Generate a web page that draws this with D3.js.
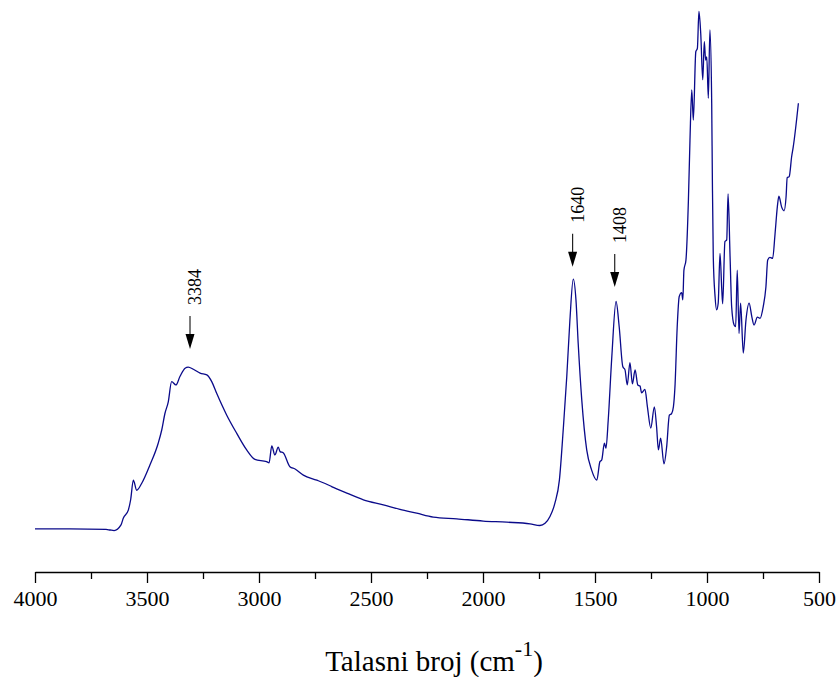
<!DOCTYPE html>
<html>
<head>
<meta charset="utf-8">
<script src="https://cdn.jsdelivr.net/npm/d3@7"></script>
<style>
  html, body { margin: 0; padding: 0; background: #fff; }
  svg { display: block; }
  .axis path, .axis line { stroke: #000; stroke-width: 1.3; }
</style>
</head>
<body>
<div id="chart"></div>
<script>
// FTIR spectrum, wavenumber (cm-1) vs absorbance (a.u.)
const wavenumber = [
  4000, 3844, 3683, 3665, 3647, 3616, 3606, 3583, 3573, 3561, 3546, 3524, 3487, 3450, 3434, 3420,
  3405, 3390, 3371, 3353, 3330, 3316, 3293, 3263, 3233, 3211, 3189, 3144, 3100, 3055, 3018, 2966,
  2955, 2943, 2929, 2914, 2906, 2892, 2862, 2839, 2802, 2742, 2683, 2668, 2608, 2534, 2445, 2371,
  2296, 2222, 2117, 1999, 1894, 1790, 1746, 1723, 1701, 1679, 1659, 1641, 1626, 1612, 1597, 1585,
  1575, 1559, 1537, 1515, 1492, 1478, 1470, 1458, 1451, 1441, 1425, 1406, 1392, 1376, 1366, 1356,
  1344, 1333, 1321, 1309, 1299, 1292, 1277, 1266, 1251, 1235, 1225, 1217, 1207, 1192, 1180, 1168,
  1158, 1150, 1143, 1133, 1124, 1113, 1108, 1103, 1094, 1083, 1076, 1068, 1061, 1050, 1043, 1036,
  1028, 1019, 1012, 1006, 1001, 994, 987, 979, 976, 972, 964, 957, 950, 942, 934, 930,
  920, 912, 906, 897, 890, 879, 872, 865, 857, 850, 838, 826, 812, 800, 790, 775,
  763, 749, 737, 729, 719, 707, 696, 686, 679, 667, 656, 647, 642, 633, 622, 615, 592
];
const absorbance = [
  0.077, 0.077, 0.076, 0.075, 0.074, 0.084, 0.096, 0.111, 0.129, 0.164, 0.146, 0.158, 0.191, 0.230, 0.254, 0.283,
  0.304, 0.340, 0.334, 0.349, 0.364, 0.366, 0.362, 0.355, 0.352, 0.340, 0.319, 0.280, 0.248, 0.218, 0.201, 0.197,
  0.195, 0.225, 0.209, 0.223, 0.215, 0.213, 0.188, 0.184, 0.173, 0.164, 0.154, 0.151, 0.141, 0.129, 0.120, 0.112,
  0.105, 0.098, 0.095, 0.091, 0.089, 0.086, 0.083, 0.087, 0.099, 0.123, 0.164, 0.259, 0.349, 0.450, 0.523, 0.486,
  0.408, 0.307, 0.218, 0.182, 0.164, 0.197, 0.200, 0.230, 0.221, 0.271, 0.384, 0.483, 0.438, 0.367, 0.361, 0.334,
  0.374, 0.336, 0.361, 0.334, 0.332, 0.320, 0.326, 0.295, 0.257, 0.295, 0.259, 0.218, 0.239, 0.193, 0.224, 0.280,
  0.283, 0.295, 0.331, 0.438, 0.492, 0.499, 0.486, 0.539, 0.557, 0.664, 0.771, 0.861, 0.807, 0.929, 0.935, 1.001,
  0.962, 0.879, 0.947, 0.914, 0.920, 0.846, 0.968, 0.837, 0.700, 0.563, 0.492, 0.468, 0.480, 0.569, 0.504, 0.479,
  0.590, 0.593, 0.675, 0.563, 0.474, 0.441, 0.438, 0.539, 0.426, 0.480, 0.391, 0.450, 0.480, 0.456, 0.441, 0.455,
  0.453, 0.474, 0.509, 0.557, 0.562, 0.560, 0.605, 0.652, 0.671, 0.652, 0.645, 0.670, 0.704, 0.706, 0.742, 0.759, 0.837
];

const majorTicks = [4000, 3500, 3000, 2500, 2000, 1500, 1000, 500];
const minorTicks = [3750, 3250, 2750, 2250, 1750, 1250, 750];

// peak annotations: label, arrow position (wavenumber), arrow tip (absorbance)
const peakLabels = ["3384", "1640", "1408"];
const peakWavenumber = [3308, 1600, 1412];
const peakTip = [0.398, 0.545, 0.509];

const serif = "'Liberation Serif', 'DejaVu Serif', serif";

const width = 837;
const height = 677;
const margin = { top: 12, right: 18, bottom: 105, left: 35 };

const svg = d3.select("#chart").append("svg")
  .attr("width", width)
  .attr("height", height);

const x = d3.scaleLinear()
  .domain([4000, 500])
  .range([margin.left, width - margin.right]);

const y = d3.scaleLinear()
  .domain([0, 1])
  .range([height - margin.bottom, margin.top]);

const axisY = height - margin.bottom;

// minor ticks first, then major ticks with labels
svg.append("g")
  .attr("class", "axis")
  .attr("transform", `translate(0,${axisY})`)
  .call(d3.axisBottom(x).tickValues(minorTicks).tickSize(7).tickSizeOuter(0).tickFormat(""))
  .call(g => g.select(".domain").remove());

svg.append("g")
  .attr("class", "axis")
  .attr("transform", `translate(0,${axisY})`)
  .call(d3.axisBottom(x).tickValues(majorTicks).tickSize(11).tickSizeOuter(0).tickPadding(7).tickFormat(d3.format("d")))
  .attr("font-family", serif)
  .attr("font-size", 22)
  .call(g => g.selectAll("text").attr("fill", "#000"));

// title
const title = svg.append("text")
  .attr("x", (x(4000) + x(500)) / 2 + 7)
  .attr("y", 671)
  .attr("text-anchor", "middle")
  .attr("font-family", serif)
  .attr("font-size", 29)
  .attr("fill", "#000");
title.append("tspan").text("Talasni broj (cm");
title.append("tspan").attr("dy", -15).attr("font-size", 22).text("-1");
title.append("tspan").attr("dy", 15).text(")");

// spectrum
const data = wavenumber.map((w, i) => [w, absorbance[i]]);
const line = d3.line()
  .x(d => x(d[0]))
  .y(d => y(d[1]))
  .curve(d3.curveMonotoneX);

svg.append("path")
  .datum(data)
  .attr("fill", "none")
  .attr("stroke", "#0a0a8a")
  .attr("stroke-width", 1.3)
  .attr("stroke-linejoin", "round")
  .attr("d", line);

// arrows and labels
const arrowLen = 33;
const headLen = 15;
const headHalf = 4.5;

peakLabels.forEach((label, i) => {
  const ax = x(peakWavenumber[i]);
  const tip = y(peakTip[i]);
  const top = tip - arrowLen;

  svg.append("line")
    .attr("x1", ax).attr("x2", ax)
    .attr("y1", top).attr("y2", tip - headLen + 1)
    .attr("stroke", "#222")
    .attr("stroke-width", 1.2);

  svg.append("path")
    .attr("d", `M${ax - headHalf},${tip - headLen} L${ax + headHalf},${tip - headLen} L${ax},${tip} Z`)
    .attr("fill", "#000");

  svg.append("text")
    .attr("transform", `translate(${ax + 11},${top - 11}) rotate(-90)`)
    .attr("text-anchor", "start")
    .attr("font-family", serif)
    .attr("font-size", 18)
    .attr("fill", "#000")
    .text(label);
});
</script>
</body>
</html>
